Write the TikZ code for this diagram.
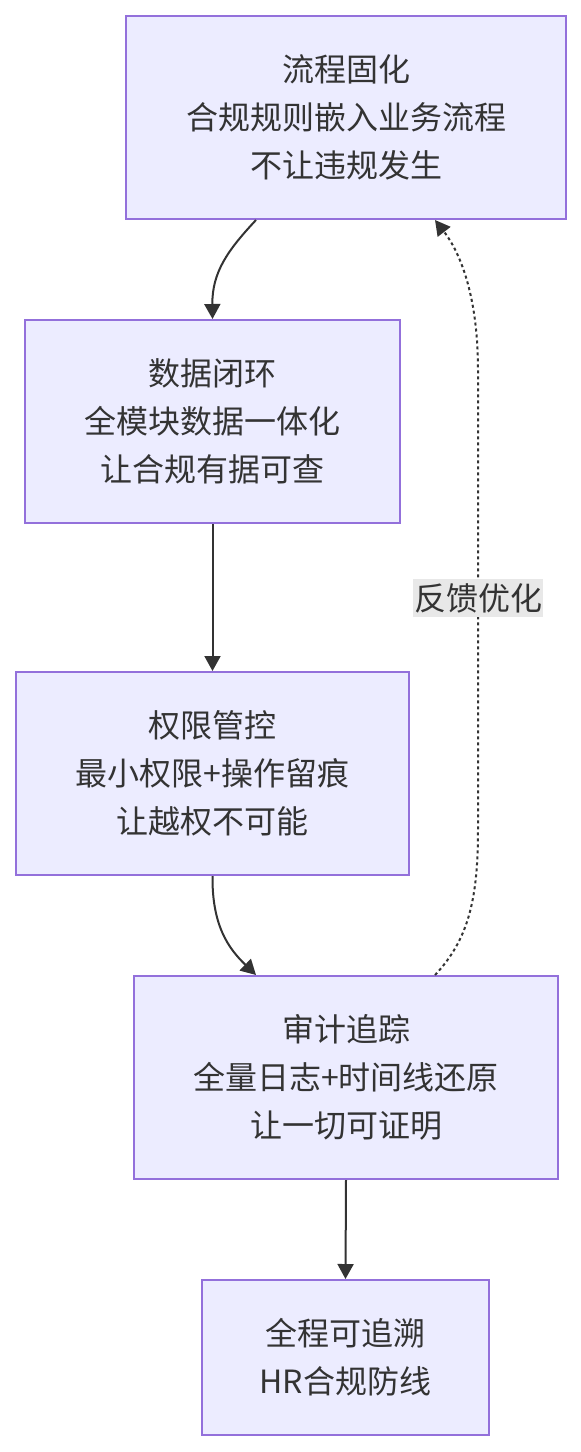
\documentclass[tikz,border=0pt]{standalone}
\usepackage{fontspec}
\setmainfont{Noto Sans CJK SC}
\usetikzlibrary{arrows.meta}
\definecolor{boxfill}{HTML}{ECECFF}
\definecolor{boxline}{HTML}{9370DB}
\definecolor{txt}{HTML}{333333}
\definecolor{lblbg}{HTML}{E8E8E8}
\begin{document}
\begin{tikzpicture}[x=1pt,y=-1pt,
  box/.style={draw=boxline,fill=boxfill,line width=2pt,inner sep=0pt,align=center,
    text=txt,font=\fontsize{32}{48}\selectfont},
  edge/.style={draw=txt,line width=2pt,-{Triangle[length=15pt,width=16pt]}},
  fb/.style={draw=txt,line width=2pt,dash pattern=on 3pt off 3pt,-{Triangle[length=15pt,width=16pt]}},
  lbl/.style={fill=lblbg,text=txt,inner xsep=1pt,inner ysep=4pt,font=\fontsize{32}{36}\selectfont}]
\useasboundingbox (0,0) rectangle (581,1452);
\node[box,minimum width=440pt,minimum height=203pt] (b1) at (346,117.5) {流程固化\\合规规则嵌入业务流程\\不让违规发生};
\node[box,minimum width=375pt,minimum height=203pt] (b2) at (212.5,421.5) {数据闭环\\全模块数据一体化\\让合规有据可查};
\node[box,minimum width=393pt,minimum height=203pt] (b3) at (212.5,773.5) {权限管控\\最小权限+操作留痕\\让越权不可能};
\node[box,minimum width=424pt,minimum height=203pt] (b4) at (346,1077.5) {审计追踪\\全量日志+时间线还原\\让一切可证明};
\node[box,minimum width=287pt,minimum height=155pt] (b5) at (345.5,1357.5) {全程可追溯\\HR合规防线};
\coordinate (b1s) at ([xshift=-90pt]b1.south);
\coordinate (b4n) at ([xshift=-90pt]b4.north);
\coordinate (fbs) at ([xshift=89pt]b4.north);
\coordinate (fbe) at ([xshift=89pt]b1.south);
\draw[edge] (b1s) .. controls (228,250) and (212,272) .. (b2.north);
\draw[edge] (b2.south) -- (b3.north);
\draw[edge] (b3.south) .. controls (212,925) and (228,948) .. (b4n);
\draw[edge] (b4.south) -- (b5.north);
\draw[fb] (fbs) .. controls (468,940) and (478,900) .. (478,830) -- (478,370) .. controls (478,300) and (462,255) .. (fbe);
\node[lbl] (fl) at (478,598) {反馈优化};
\end{tikzpicture}
\end{document}
